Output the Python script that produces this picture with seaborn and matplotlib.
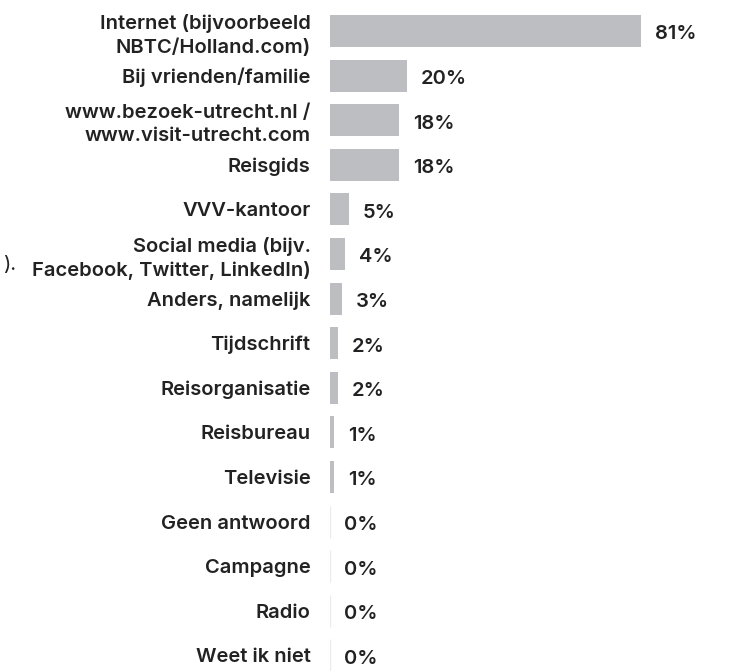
import matplotlib
matplotlib.use("Agg")
import matplotlib.pyplot as plt
import seaborn as sns
import pandas as pd

categories = [
    "Internet (bijvoorbeeld\nNBTC/Holland.com)",
    "Bij vrienden/familie",
    "www.bezoek-utrecht.nl /\nwww.visit-utrecht.com",
    "Reisgids",
    "VVV-kantoor",
    "Social media (bijv.\nFacebook, Twitter, LinkedIn)",
    "Anders, namelijk",
    "Tijdschrift",
    "Reisorganisatie",
    "Reisbureau",
    "Televisie",
    "Geen antwoord",
    "Campagne",
    "Radio",
    "Weet ik niet",
]
values = [81, 20, 18, 18, 5, 4, 3, 2, 2, 1, 1, 0, 0, 0, 0]
value_labels = ["81%", "20%", "18%", "18%", "5%", "4%", "3%", "2%", "2%",
                "1%", "1%", "0%", "0%", "0%", "0%"]

df = pd.DataFrame({"cat": categories, "val": values})

sns.set_theme(style="white")
plt.rcParams["font.family"] = ["Inter", "DejaVu Sans"]

BAR = "#bdbec2"
TXT = "#222222"
FS = 14.5

fig = plt.figure(figsize=(7.29, 6.71), dpi=100)
W, H = 729, 671
ax_left, ax_right = 330, 714
ax_top, ax_bottom = 8.7, 671
ax = fig.add_axes([ax_left / W, 1 - ax_bottom / H,
                   (ax_right - ax_left) / W, (ax_bottom - ax_top) / H])

sns.barplot(data=df, x="val", y="cat", orient="h", color=BAR,
            saturation=1, width=0.72, ax=ax, linewidth=0)

# faint zero-width marker lines
for p in ax.patches:
    if p.get_width() == 0:
        y0 = p.get_y()
        ax.plot([0, 0], [y0, y0 + p.get_height()], color="#ebebeb", lw=1.0,
                solid_capstyle="butt")

ax.set_xlim(0, 100)
ax.set_ylim(14.35, -0.5)
ax.set_xlabel("")
ax.set_ylabel("")
ax.set_xticks([])
ax.tick_params(axis="y", length=0, pad=14)
ax.set_yticks(range(len(categories)))
ax.set_yticklabels(categories, fontsize=FS, fontweight="semibold", color=TXT,
                   linespacing=1.35)
for s in ax.spines.values():
    s.set_visible(False)

for i, (v, lab) in enumerate(zip(values, value_labels)):
    ax.annotate(lab, xy=(v, i), xytext=(10, -2.5), textcoords="offset points",
                ha="left", va="center", fontsize=FS, fontweight="semibold",
                color=TXT)

fig.text(3 / W, 1 - 265 / H, ").", fontsize=FS, color=TXT, va="center",
         ha="left")

fig.savefig("out.png", dpi=100)
